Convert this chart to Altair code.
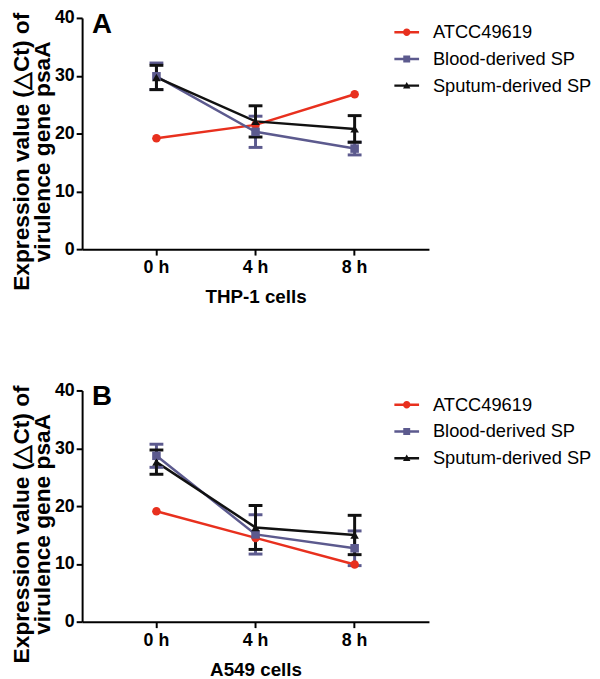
import altair as alt
import pandas as pd

FONT = "Liberation Sans"

times = ["0 h", "4 h", "8 h"]
series = ["ATCC49619", "Blood-derived SP", "Sputum-derived SP"]
colors = ["#e8301e", "#5c5a8e", "#111111"]
point_shapes = ["circle", "square", "triangle-up"]

# Panel A (THP-1 cells)
a_atcc = [19.2, 21.5, 26.8]
a_blood = [29.9, 20.3, 17.4]
a_blood_err = [2.3, 2.7, 1.1]
a_sput = [29.7, 22.1, 20.8]
a_sput_err = [2.1, 2.7, 2.3]

# Panel B (A549 cells)
b_atcc = [19.1, 14.5, 9.9]
b_blood = [28.7, 15.1, 12.7]
b_blood_err = [2.0, 3.4, 3.0]
b_sput = [27.6, 16.3, 15.0]
b_sput_err = [2.1, 3.8, 3.4]

# legend glyphs: a short line with the series marker (all sub-paths clockwise)
legend_paths = [
    "M-1,-0.1H1V0.1H-1ZM-0.3,0A0.3,0.3,0,1,1,0.3,0A0.3,0.3,0,1,1,-0.3,0Z",
    "M-1,-0.1H1V0.1H-1ZM-0.28,-0.28H0.28V0.28H-0.28Z",
    "M-1,-0.1H1V0.1H-1ZM0,-0.3L0.3,0.24H-0.3Z",
]


def make_df(atcc, blood, blood_err, sput, sput_err):
    rows = []
    for vals, errs, s in [(atcc, [0, 0, 0], series[0]),
                          (blood, blood_err, series[1]),
                          (sput, sput_err, series[2])]:
        for t, v, e in zip(times, vals, errs):
            rows.append({"time": t, "series": s, "mean": v, "err": e,
                         "lo": v - e, "hi": v + e})
    return pd.DataFrame(rows)


def panel(letter, xtitle, df):
    base = alt.Chart(df)
    x = alt.X("time:N", sort=times, title=xtitle,
              scale=alt.Scale(padding=0.5),
              axis=alt.Axis(labelAngle=0))
    yaxis = alt.Axis(values=[0, 10, 20, 30, 40], titleY=135,
                     title=["Expression value (\u25b3Ct) of", "virulence gene psaA"])
    yscale = alt.Scale(domain=[0, 40], nice=False)

    def Y(f):
        return alt.Y(f, scale=yscale, axis=yaxis)

    lines, bars, pts = [], [], []
    for s, c, sh in zip(series, colors, point_shapes):
        d = base.transform_filter(alt.datum.series == s)
        lines.append(d.mark_line(strokeWidth=2.5, color=c).encode(x=x, y=Y("mean:Q")))
        pts.append(d.mark_point(filled=True, opacity=1, size=75, shape=sh, color=c)
                   .encode(x=x, y=Y("mean:Q")))
        if s != series[0]:
            e = d.transform_filter("datum.err > 0")
            bars.append(e.mark_rule(strokeWidth=3, color=c).encode(
                x=x, y=Y("lo:Q"), y2="hi:Q"))
            bars.append(e.mark_tick(thickness=3, size=14, opacity=1, color=c).encode(
                x=x, y=Y("hi:Q")))
            bars.append(e.mark_tick(thickness=3, size=14, opacity=1, color=c).encode(
                x=x, y=Y("lo:Q")))
    lg = alt.Legend(title=None, orient="none", legendX=316, legendY=2)
    leg = base.transform_filter("false").mark_point(filled=True, opacity=1).encode(
        color=alt.Color("series:N", scale=alt.Scale(domain=series, range=colors),
                        legend=lg),
        shape=alt.Shape("series:N", scale=alt.Scale(domain=series, range=legend_paths),
                        legend=lg),
    )
    return alt.layer(*lines, *bars, *pts, leg).properties(
        width=351, height=234,
        title=alt.TitleParams(letter, anchor="start", frame="group", fontSize=28,
                              fontWeight="bold", font=FONT, dx=10, dy=34,
                              color="#000000"),
    )


pa = panel("A", "THP-1 cells", make_df(a_atcc, a_blood, a_blood_err, a_sput, a_sput_err))
pb = panel("B", "A549 cells", make_df(b_atcc, b_blood, b_blood_err, b_sput, b_sput_err))

chart = alt.vconcat(pa, pb, spacing=76).resolve_scale(
    color="independent", shape="independent"
).resolve_legend(
    color="independent", shape="independent"
).properties(
    padding={"left": 2, "top": -3, "right": 0, "bottom": 0}
).configure_view(stroke=None).configure_axis(
    grid=False,
    domainColor="#000000", domainWidth=2,
    tickColor="#000000", tickWidth=2, tickSize=6,
    labelFont=FONT, labelFontSize=18, labelFontWeight="bold", labelColor="#000000",
    titleFont=FONT, titleFontWeight="bold", titleColor="#000000",
).configure_axisY(titlePadding=0, titleFontSize=23, titleLineHeight=21, labelPadding=2
).configure_axisX(titlePadding=11, titleFontSize=19, labelPadding=4
).configure_legend(
    labelFont=FONT, labelFontSize=18.5, labelColor="#000000", padding=0,
    labelLimit=0, symbolSize=625, symbolStrokeWidth=0, rowPadding=5, labelOffset=14,
)

chart.save("out.html", embed_options={"renderer": "svg", "actions": False})
